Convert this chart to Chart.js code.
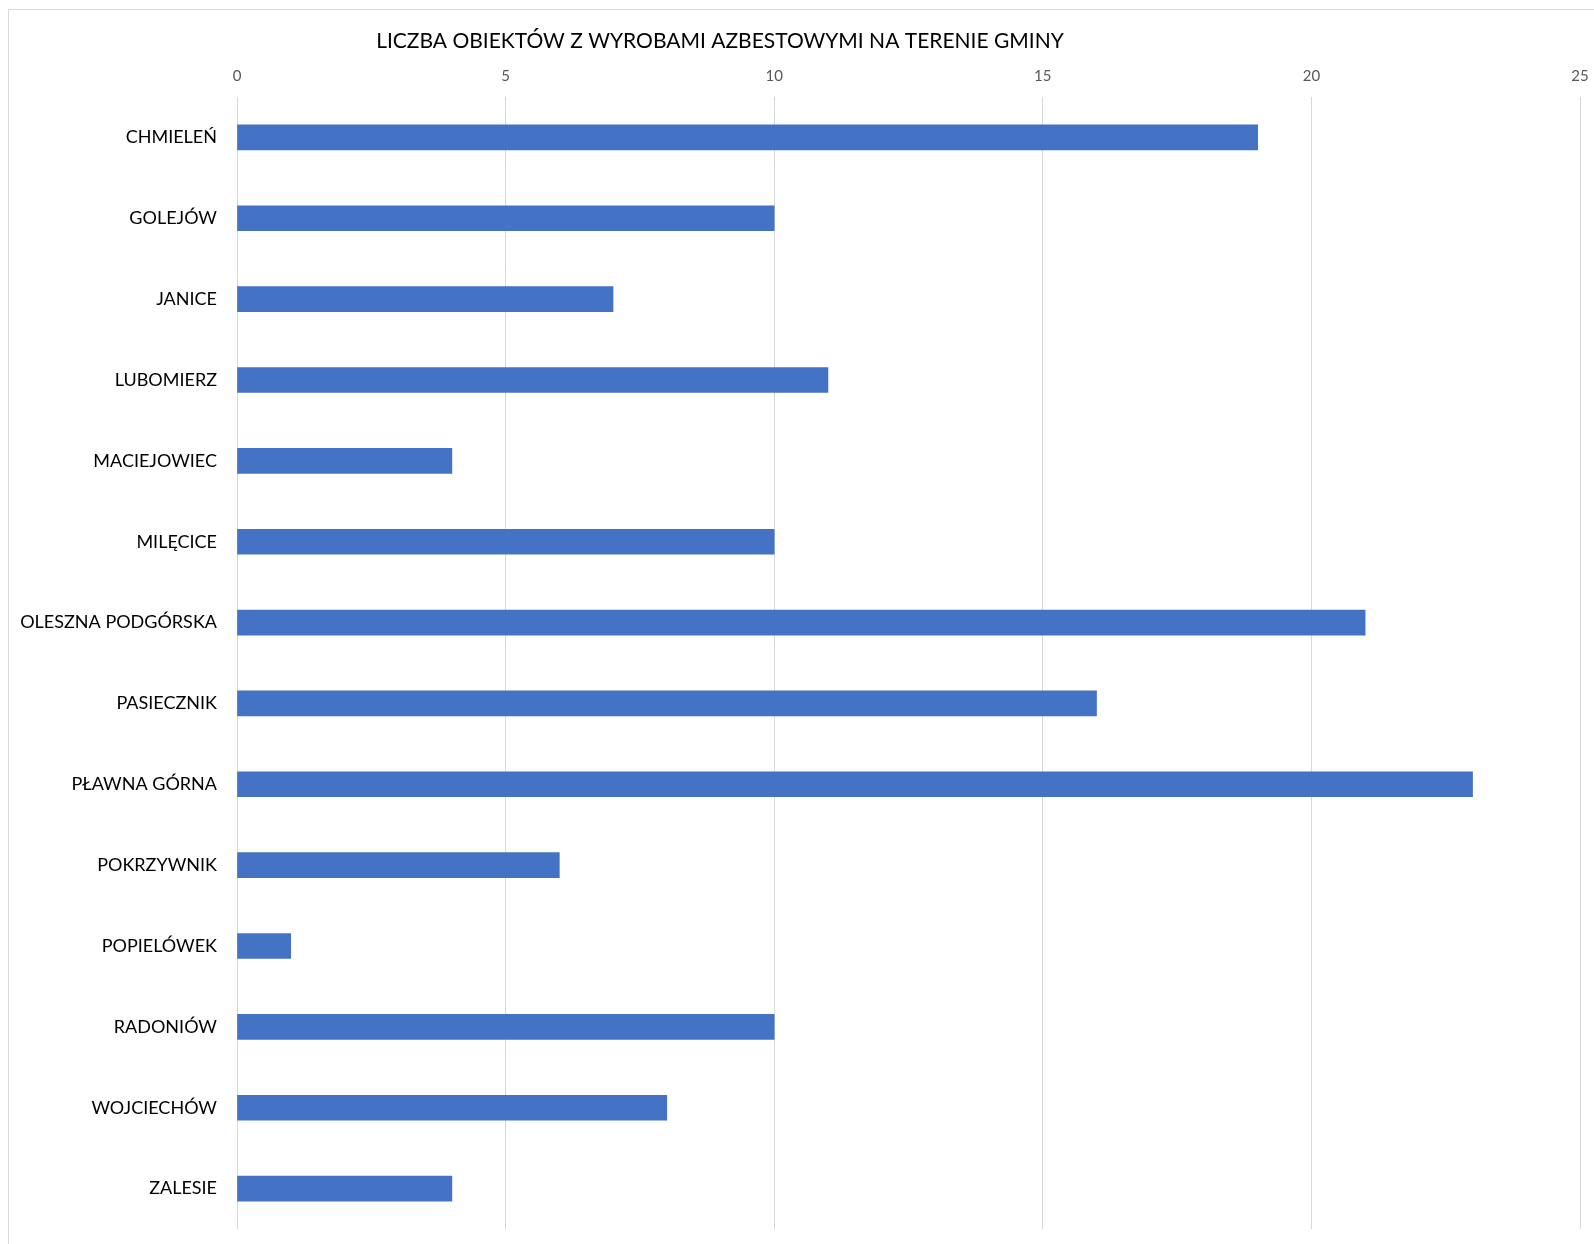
<!DOCTYPE html>
<html lang="pl">
<head>
    <meta charset="UTF-8">
    <title>Liczba obiektów z wyrobami azbestowymi na terenie gminy</title>
    <script src="https://cdn.jsdelivr.net/npm/chart.js"></script>
    <style>
        html, body { margin: 0; padding: 0; background: #fff; }
        #wrap { width: 1594px; height: 1244px; position: relative; }
    </style>
</head>
<body>
    <div id="wrap">
        <canvas id="asbestosChart"></canvas>
    </div>

    <script>
        const chartTitle = 'LICZBA OBIEKTÓW Z WYROBAMI AZBESTOWYMI NA TERENIE GMINY';
        const villages = [
            'CHMIELEŃ', 'GOLEJÓW', 'JANICE', 'LUBOMIERZ', 'MACIEJOWIEC', 'MILĘCICE',
            'OLESZNA PODGÓRSKA', 'PASIECZNIK', 'PŁAWNA GÓRNA', 'POKRZYWNIK',
            'POPIELÓWEK', 'RADONIÓW', 'WOJCIECHÓW', 'ZALESIE'
        ];
        const objectCounts = [19, 10, 7, 11, 4, 10, 21, 16, 23, 6, 1, 10, 8, 4];
        const axisMin = 0;
        const axisMax = 25;
        const axisStep = 5;

        const fontFamily = 'Lato, "Open Sans", sans-serif';

        // ramka wykresu (widoczna tylko góra i lewa strona) + tytuł
        const framePlugin = {
            id: 'frame',
            beforeDraw(chart) {
                const ctx = chart.ctx;
                ctx.save();
                ctx.strokeStyle = '#d9d9d9';
                ctx.lineWidth = 1;
                ctx.beginPath();
                ctx.moveTo(8.5, chart.height);
                ctx.lineTo(8.5, 9.5);
                ctx.lineTo(chart.width, 9.5);
                ctx.stroke();
                ctx.restore();
            },
            afterDraw(chart) {
                const ctx = chart.ctx;
                ctx.save();
                ctx.fillStyle = '#000';
                ctx.font = '21px ' + fontFamily;
                ctx.textAlign = 'center';
                ctx.textBaseline = 'middle';
                ctx.fillText(chartTitle, 720, 41);
                ctx.restore();
            }
        };

        const ctx = document.getElementById('asbestosChart').getContext('2d');
        new Chart(ctx, {
            type: 'bar',
            data: {
                labels: villages,
                datasets: [{
                    data: objectCounts,
                    backgroundColor: '#4472C4',
                    borderWidth: 0,
                    barThickness: 25
                }]
            },
            options: {
                indexAxis: 'y',
                responsive: true,
                maintainAspectRatio: false,
                animation: false,
                layout: { padding: { top: 0, right: 14, bottom: 15, left: 0 } },
                plugins: {
                    legend: { display: false },
                    title: { display: false },
                    tooltip: { enabled: false }
                },
                scales: {
                    x: {
                        position: 'top',
                        min: axisMin,
                        max: axisMax,
                        afterFit(scale) {
                            scale.height = 97;
                            scale.paddingLeft = 0;
                            scale.paddingRight = 0;
                        },
                        ticks: {
                            stepSize: axisStep,
                            color: '#595959',
                            padding: 12,
                            font: { family: fontFamily, size: 15 }
                        },
                        grid: { color: '#d9d9d9', drawTicks: false },
                        border: { display: false }
                    },
                    y: {
                        afterFit(scale) {
                            scale.width = 237;
                            scale.paddingTop = 0;
                            scale.paddingBottom = 0;
                        },
                        ticks: {
                            color: '#000',
                            padding: 20,
                            font: { family: fontFamily, size: 18 }
                        },
                        grid: { display: false, drawTicks: false },
                        border: { display: false }
                    }
                }
            },
            plugins: [framePlugin]
        });
    </script>
</body>
</html>
